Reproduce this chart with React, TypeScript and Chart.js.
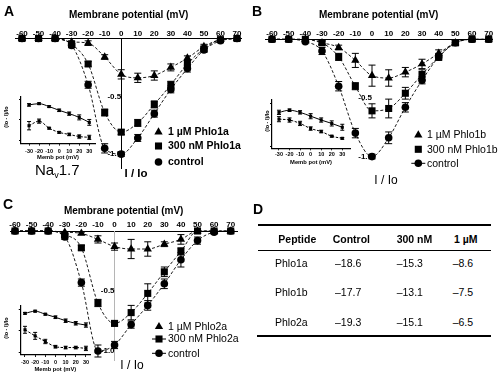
import React, { useEffect, useRef } from "react";
import { Chart, registerables } from "chart.js";
Chart.register(...registerables);

const FONT = "'Liberation Sans', Arial, Helvetica, sans-serif";

// ---------------- data ----------------
const voltages = [-60, -50, -40, -30, -20, -10, 0, 10, 20, 30, 40, 50, 60, 70];
const mainXTicks = [-60, -50, -40, -30, -20, -10, 0, 10, 20, 30, 40, 50, 60, 70];
const mainYTicks = [-1.0, -0.5];

const insetVoltages = [-30, -20, -10, 0, 10, 20, 30];
const insetXTicks = [-30, -20, -10, 0, 10, 20, 30];
const insetYTicks = [0, 0.5, 1.0];

// Panel A (Phlo1a)
const labelsA = ["1 µM Phlo1a", "300 nM Phlo1a", "control"];
const a1uM = [0, 0, 0, -0.03, -0.04, -0.16, -0.31, -0.34, -0.32, -0.25, -0.17, -0.07, -0.01, 0];
const a1uMErr = [0, 0, 0, 0.01, 0.02, 0.02, 0.04, 0.04, 0.04, 0.03, 0.02, 0.02, 0.01, 0];
const a300 = [0, 0, 0, -0.05, -0.22, -0.64, -0.81, -0.73, -0.57, -0.40, -0.22, -0.09, -0.01, 0];
const a300Err = [0, 0, 0, 0.02, 0.02, 0.03, 0.02, 0.03, 0.03, 0.03, 0.03, 0.02, 0.01, 0];
const aCtrl = [0, 0, 0, -0.06, -0.40, -0.95, -1.0, -0.86, -0.65, -0.44, -0.26, -0.10, -0.02, 0];
const aCtrlErr = [0, 0, 0, 0.02, 0.03, 0.04, 0.02, 0.03, 0.03, 0.03, 0.03, 0.02, 0.01, 0];
const aInsetUpper = [0.86, 0.89, 0.82, 0.73, 0.65, 0.56, 0.44];
const aInsetUpperErr = [0.03, 0.02, 0.02, 0.03, 0.04, 0.06, 0.07];
const aInsetLower = [0.36, 0.47, 0.30, 0.20, 0.15, 0.10, 0.08];
const aInsetLowerErr = [0.1, 0.05, 0.02, 0.02, 0.03, 0.04, 0.05];

// Panel B (Phlo1b)
const labelsB = ["1 µM Phlo1b", "300 nM Phlo1b", "control"];
const b1uM = [0, 0, 0, -0.03, -0.07, -0.18, -0.31, -0.33, -0.28, -0.21, -0.12, -0.03, 0, 0];
const b1uMErr = [0, 0, 0, 0.01, 0.02, 0.06, 0.09, 0.07, 0.04, 0.04, 0.03, 0.02, 0, 0];
const b300 = [0, 0, 0, -0.03, -0.15, -0.40, -0.61, -0.59, -0.46, -0.30, -0.15, -0.03, 0, 0];
const b300Err = [0, 0, 0, 0.02, 0.03, 0.03, 0.06, 0.08, 0.05, 0.04, 0.03, 0.02, 0, 0];
const bCtrl = [0, 0, -0.02, -0.10, -0.40, -0.80, -1.0, -0.84, -0.58, -0.35, -0.15, -0.03, 0, 0];
const bCtrlErr = [0, 0, 0, 0.03, 0.04, 0.04, 0.02, 0.05, 0.04, 0.03, 0.02, 0.02, 0, 0];
const bInsetUpper = [0.79, 0.84, 0.79, 0.70, 0.61, 0.53, 0.44];
const bInsetUpperErr = [0.05, 0.03, 0.04, 0.06, 0.05, 0.06, 0.07];
const bInsetLower = [0.63, 0.61, 0.53, 0.41, 0.34, 0.23, 0.18];
const bInsetLowerErr = [0.06, 0.05, 0.05, 0.04, 0.03, 0.02, 0.02];

// Panel C (Phlo2a)
const labelsC = ["1 µM Phlo2a", "300 nM Phlo2a", "control"];
const c1uM = [0, 0, 0, -0.01, -0.02, -0.07, -0.13, -0.15, -0.15, -0.11, -0.07, 0, 0, 0];
const c1uMErr = [0, 0, 0, 0, 0.01, 0.03, 0.03, 0.08, 0.06, 0.02, 0.04, 0.02, 0, 0];
const c300 = [0, 0, 0, -0.03, -0.14, -0.60, -0.77, -0.68, -0.52, -0.34, -0.17, 0, 0, 0];
const c300Err = [0, 0, 0, 0.01, 0.02, 0.03, 0.02, 0.06, 0.08, 0.04, 0.03, 0.02, 0.01, 0];
const cCtrl = [0, 0, 0, -0.05, -0.43, -1.0, -0.95, -0.78, -0.62, -0.44, -0.24, -0.08, -0.01, 0];
const cCtrlErr = [0, 0, 0, 0.02, 0.03, 0.05, 0.03, 0.03, 0.04, 0.04, 0.06, 0.03, 0.01, 0];
const cInsetUpper = [0.90, 0.95, 0.88, 0.81, 0.73, 0.67, 0.63];
const cInsetUpperErr = [0.02, 0.02, 0.02, 0.03, 0.04, 0.04, 0.05];
const cInsetLower = [0.52, 0.38, 0.25, 0.13, 0.11, 0.11, 0.09];
const cInsetLowerErr = [0.08, 0.08, 0.05, 0.03, 0.03, 0.03, 0.05];

// Panel D table
const tableHeader = ["Peptide", "Control", "300 nM", "1 µM"];
const tablePeptides = ["Phlo1a", "Phlo1b", "Phlo2a"];
const tableControl = ["–18.6", "–17.7", "–19.3"];
const table300 = ["–15.3", "–13.1", "–15.1"];
const table1uM = ["–8.6", "–7.5", "–6.5"];

// ---------------- helpers ----------------
type Style = "triangle" | "rect" | "circle";
const styles: Style[] = ["triangle", "rect", "circle"];
const radii = [4.8, 5.0, 3.8];
const drawOrder = [1, 0, 2]; // squares on top

function drawMarker(ctx: CanvasRenderingContext2D, style: Style, x: number, y: number, r: number) {
  ctx.beginPath();
  if (style === "triangle") {
    let rad = 0;
    ctx.moveTo(x + Math.sin(rad) * r, y - Math.cos(rad) * r);
    rad += (2 * Math.PI) / 3;
    ctx.lineTo(x + Math.sin(rad) * r, y - Math.cos(rad) * r);
    rad += (2 * Math.PI) / 3;
    ctx.lineTo(x + Math.sin(rad) * r, y - Math.cos(rad) * r);
    ctx.closePath();
  } else if (style === "rect") {
    const s = Math.SQRT1_2 * r;
    ctx.rect(x - s, y - s, 2 * s, 2 * s);
  } else {
    ctx.arc(x, y, r, 0, Math.PI * 2);
  }
  ctx.fill();
}

function errorBarPlugin(cap: number) {
  return {
    id: "errbars",
    afterDatasetsDraw(chart: any) {
      const ctx = chart.ctx as CanvasRenderingContext2D;
      const ys = chart.scales.y;
      chart.data.datasets.forEach((ds: any, i: number) => {
        const meta = chart.getDatasetMeta(i);
        const errs: number[] = ds.errors || [];
        meta.data.forEach((pt: any, j: number) => {
          const e = errs[j];
          if (!e) return;
          const v = ds.data[j].y;
          const x = pt.x;
          const y1 = ys.getPixelForValue(v + e);
          const y2 = ys.getPixelForValue(v - e);
          ctx.save();
          ctx.strokeStyle = "#000";
          ctx.lineWidth = 1;
          ctx.setLineDash([]);
          ctx.beginPath();
          ctx.moveTo(x, y1);
          ctx.lineTo(x, y2);
          ctx.moveTo(x - cap, y1);
          ctx.lineTo(x + cap, y1);
          ctx.moveTo(x - cap, y2);
          ctx.lineTo(x + cap, y2);
          ctx.stroke();
          ctx.restore();
        });
      });
    },
  };
}

type LegendSpec = {
  labels: string[];
  markerX: number;
  textX: number;
  ys: number[];
  lines: boolean[];
  bold: boolean;
};

function legendPlugin(spec: LegendSpec, offX: number, offY: number) {
  return {
    id: "customLegend",
    afterDraw(chart: any) {
      const ctx = chart.ctx as CanvasRenderingContext2D;
      ctx.save();
      ctx.fillStyle = "#000";
      ctx.strokeStyle = "#000";
      ctx.font = `${spec.bold ? "bold " : ""}10.5px ${FONT}`;
      ctx.textBaseline = "middle";
      ctx.textAlign = "left";
      spec.labels.forEach((lab, i) => {
        const mx = spec.markerX - offX;
        const y = spec.ys[i] - offY;
        if (spec.lines[i]) {
          ctx.lineWidth = 1;
          ctx.beginPath();
          ctx.moveTo(mx - 7, y);
          ctx.lineTo(mx + 7, y);
          ctx.stroke();
        }
        drawMarker(ctx, styles[i], mx, y, radii[i]);
        ctx.fillText(lab, spec.textX - offX, y + 0.5);
      });
      ctx.restore();
    },
  };
}

type MainSpec = {
  left: number;
  top: number;
  width: number;
  height: number;
  p60: number;
  p70: number;
  xMin: number;
  xMax: number;
  yMin: number;
  plotTop: number;
  plotBottom: number;
  titleY: number;
  tickY: number;
  axisColor: string | null;
  series: { values: number[]; errors: number[] }[];
  legend: LegendSpec;
};

function buildMain(s: MainSpec) {
  const pxPerMv = (s.p70 - s.p60) / 130;
  const plotLeft = s.p60 + (s.xMin + 60) * pxPerMv;
  const plotRight = s.p60 + (s.xMax + 60) * pxPerMv;
  const axisH = s.plotTop - s.top;
  const titleFont = 10;
  const tickFont = 8;
  const titlePad = s.titleY - s.top - (titleFont * 1.2) / 2;
  const tickPad = Math.max(0, s.plotTop - s.tickY - (tickFont * 1.2) / 2);
  return {
    type: "line",
    data: {
      datasets: s.series.map((ser, i) => ({
        label: s.legend.labels[i],
        data: voltages.map((v, j) => ({ x: v, y: ser.values[j] })),
        errors: ser.errors,
        order: drawOrder[i],
        borderColor: "#000",
        backgroundColor: "#000",
        borderWidth: 0.9,
        borderDash: [3, 2],
        pointStyle: styles[i],
        pointRadius: radii[i],
        pointBorderWidth: 0,
        cubicInterpolationMode: "monotone",
        clip: false,
        fill: false,
      })),
    },
    options: {
      animation: false,
      responsive: false,
      maintainAspectRatio: false,
      events: [],
      layout: {
        padding: {
          left: plotLeft - s.left,
          right: s.left + s.width - plotRight,
          top: 0,
          bottom: s.top + s.height - s.plotBottom,
        },
      },
      plugins: { legend: { display: false }, tooltip: { enabled: false } },
      scales: {
        x: {
          type: "linear",
          position: "top",
          min: s.xMin,
          max: s.xMax,
          grid: { display: false, drawTicks: false, tickLength: 0 },
          border: { display: true, color: "#000", width: 1 },
          afterBuildTicks: (sc: any) => {
            sc.ticks = mainXTicks.map((v) => ({ value: v }));
          },
          afterFit: (sc: any) => {
            sc.height = axisH;
          },
          ticks: {
            color: "#000",
            padding: tickPad,
            maxRotation: 0,
            autoSkip: false,
            font: { family: FONT, size: tickFont, weight: "bold" },
            callback: (v: any) => String(v),
          },
          title: {
            display: true,
            text: "Membrane potential (mV)",
            color: "#000",
            font: { family: FONT, size: titleFont, weight: "bold" },
            padding: { top: titlePad, bottom: 0 },
          },
        },
        y: {
          type: "linear",
          position: { x: 0 },
          min: s.yMin,
          max: 0,
          grid: { display: false, drawTicks: false, tickLength: 0 },
          border: { display: s.axisColor !== null, color: s.axisColor || "#000", width: 1 },
          afterBuildTicks: (sc: any) => {
            sc.ticks = mainYTicks.map((v) => ({ value: v }));
          },
          afterFit: (sc: any) => {
            sc.width = 0;
          },
          ticks: {
            color: "#000",
            padding: 2,
            font: { family: FONT, size: 8, weight: "bold" },
            callback: (v: any) => Number(v).toFixed(1),
          },
        },
      },
    },
    plugins: [errorBarPlugin(3.5), legendPlugin(s.legend, s.left, s.top)],
  };
}

type InsetSpec = {
  xm30: number;
  x30: number;
  y1: number;
  y0: number;
  xMin: number;
  xMax: number;
  yMin: number;
  yMax: number;
  tickY: number;
  titleY: number;
  upper: number[];
  upperErr: number[];
  lower: number[];
  lowerErr: number[];
};

function insetBox(s: InsetSpec) {
  const pxX = (s.x30 - s.xm30) / 60;
  const plotLeft = s.xm30 + (s.xMin + 30) * pxX;
  const plotRight = s.xm30 + (s.xMax + 30) * pxX;
  const pxY = s.y0 - s.y1;
  const plotTop = s.y1 - (s.yMax - 1) * pxY;
  const plotBottom = s.y0 - s.yMin * pxY;
  const left = Math.max(0, plotLeft - 21);
  const top = plotTop - 5;
  const width = plotRight - left + 4;
  const height = s.titleY + 5 - top;
  return { plotLeft, plotRight, plotTop, plotBottom, left, top, width, height };
}

function buildInset(s: InsetSpec) {
  const b = insetBox(s);
  const tickFont = 5.5;
  const titleFont = 5.8;
  const tickLen = 2;
  const canvasBottom = b.top + b.height;
  const tickPad = Math.max(0, s.tickY - b.plotBottom - tickLen - (tickFont * 1.2) / 2);
  const titlePadB = Math.max(0, canvasBottom - s.titleY - (titleFont * 1.2) / 2);
  const mk = (vals: number[], errs: number[], dashed: boolean) => ({
    data: insetVoltages.map((v, j) => ({ x: v, y: vals[j] })),
    errors: errs,
    borderColor: "#000",
    backgroundColor: "#000",
    borderWidth: 1,
    borderDash: dashed ? [2.5, 1.5] : [],
    pointStyle: "rect",
    pointRadius: 2.2,
    pointBorderWidth: 0,
    cubicInterpolationMode: "monotone",
    clip: false,
    fill: false,
  });
  const grid = { display: true, drawOnChartArea: false, drawTicks: true, tickLength: tickLen, color: "#000", lineWidth: 1 };
  return {
    type: "line",
    data: { datasets: [mk(s.upper, s.upperErr, false), mk(s.lower, s.lowerErr, true)] },
    options: {
      animation: false,
      responsive: false,
      maintainAspectRatio: false,
      events: [],
      layout: {
        padding: {
          left: b.plotLeft - b.left,
          right: b.left + b.width - b.plotRight,
          top: b.plotTop - b.top,
          bottom: 0,
        },
      },
      plugins: { legend: { display: false }, tooltip: { enabled: false } },
      scales: {
        x: {
          type: "linear",
          position: "bottom",
          min: s.xMin,
          max: s.xMax,
          grid,
          border: { display: true, color: "#000", width: 1.2 },
          afterBuildTicks: (sc: any) => {
            sc.ticks = insetXTicks.map((v) => ({ value: v }));
          },
          afterFit: (sc: any) => {
            sc.height = canvasBottom - b.plotBottom;
          },
          ticks: {
            color: "#000",
            padding: tickPad,
            maxRotation: 0,
            autoSkip: false,
            font: { family: FONT, size: tickFont, weight: "bold" },
            callback: (v: any) => String(v),
          },
          title: {
            display: true,
            text: "Memb pot (mV)",
            color: "#000",
            font: { family: FONT, size: titleFont, weight: "bold" },
            padding: { top: 0, bottom: titlePadB },
          },
        },
        y: {
          type: "linear",
          position: "left",
          min: s.yMin,
          max: s.yMax,
          grid,
          border: { display: true, color: "#000", width: 1.2 },
          afterBuildTicks: (sc: any) => {
            sc.ticks = insetYTicks.map((v) => ({ value: v }));
          },
          afterFit: (sc: any) => {
            sc.width = 0;
          },
          ticks: {
            color: "#000",
            padding: 1.5,
            font: { family: FONT, size: 5, weight: "bold" },
            callback: (v: any) => Number(v).toFixed(1),
          },
        },
      },
    },
    plugins: [errorBarPlugin(2)],
  };
}

// ---------------- panel specs ----------------
const panelA: MainSpec = {
  left: 0, top: 0, width: 250, height: 180,
  p60: 22, p70: 237, xMin: -64, xMax: 73, yMin: -1.12,
  plotTop: 38.5, plotBottom: 168, titleY: 15, tickY: 33.5, axisColor: "#000",
  series: [
    { values: a1uM, errors: a1uMErr },
    { values: a300, errors: a300Err },
    { values: aCtrl, errors: aCtrlErr },
  ],
  legend: { labels: labelsA, markerX: 158.5, textX: 168, ys: [132, 146, 162], lines: [false, false, false], bold: true },
};

const panelB: MainSpec = {
  left: 250, top: 0, width: 250, height: 185,
  p60: 272, p70: 488.7, xMin: -64, xMax: 72, yMin: -1.14,
  plotTop: 39.3, plotBottom: 173, titleY: 15, tickY: 33.5, axisColor: null,
  series: [
    { values: b1uM, errors: b1uMErr },
    { values: b300, errors: b300Err },
    { values: bCtrl, errors: bCtrlErr },
  ],
  legend: { labels: labelsB, markerX: 418.3, textX: 427, ys: [135, 149.3, 163.3], lines: [false, false, true], bold: false },
};

const panelC: MainSpec = {
  left: 0, top: 180, width: 250, height: 195,
  p60: 15, p70: 230.7, xMin: -63, xMax: 74, yMin: -1.075,
  plotTop: 231, plotBottom: 360, titleY: 211.7, tickY: 224.5, axisColor: "#b5b5b5",
  series: [
    { values: c1uM, errors: c1uMErr },
    { values: c300, errors: c300Err },
    { values: cCtrl, errors: cCtrlErr },
  ],
  legend: { labels: labelsC, markerX: 159, textX: 168, ys: [326.7, 339, 353.3], lines: [false, true, true], bold: false },
};

const insetA: InsetSpec = {
  xm30: 29.3, x30: 89.3, y1: 98.7, y0: 140, xMin: -38, xMax: 35.7, yMin: -0.07, yMax: 1.05,
  tickY: 150.7, titleY: 156.3,
  upper: aInsetUpper, upperErr: aInsetUpperErr, lower: aInsetLower, lowerErr: aInsetLowerErr,
};
const insetB: InsetSpec = {
  xm30: 279, x30: 342.3, y1: 103.3, y0: 146, xMin: -36.6, xMax: 37.3, yMin: -0.054, yMax: 1.08,
  tickY: 154.5, titleY: 162,
  upper: bInsetUpper, upperErr: bInsetUpperErr, lower: bInsetLower, lowerErr: bInsetLowerErr,
};
const insetC: InsetSpec = {
  xm30: 25, x30: 86, y1: 309, y0: 352.3, xMin: -34.2, xMax: 34, yMin: -0.06, yMax: 1.07,
  tickY: 362, titleY: 369,
  upper: cInsetUpper, upperErr: cInsetUpperErr, lower: cInsetLower, lowerErr: cInsetLowerErr,
};

// ---------------- components ----------------
function ChartCanvas(props: { left: number; top: number; width: number; height: number; build: () => any }) {
  const ref = useRef<HTMLCanvasElement | null>(null);
  useEffect(() => {
    const chart = new Chart(ref.current as HTMLCanvasElement, props.build());
    return () => chart.destroy();
  }, []);
  return (
    <canvas
      ref={ref}
      width={Math.round(props.width)}
      height={Math.round(props.height)}
      style={{ position: "absolute", left: props.left, top: props.top, width: Math.round(props.width), height: Math.round(props.height) }}
    />
  );
}

function MainChart({ spec }: { spec: MainSpec }) {
  return <ChartCanvas left={spec.left} top={spec.top} width={spec.width} height={spec.height} build={() => buildMain(spec)} />;
}

function InsetChart({ spec }: { spec: InsetSpec }) {
  const b = insetBox(spec);
  return <ChartCanvas left={b.left} top={b.top} width={b.width} height={b.height} build={() => buildInset({ ...spec })} />;
}

function Txt(props: {
  x: number; y: number; size: number; bold?: boolean; align?: "left" | "center" | "right"; rotate?: number; children: any;
}) {
  const align = props.align || "left";
  const tx = align === "left" ? "0" : align === "center" ? "-50%" : "-100%";
  return (
    <div
      style={{
        position: "absolute",
        left: props.x,
        top: props.y,
        transform: `translate(${tx}, -50%)${props.rotate ? ` rotate(${props.rotate}deg)` : ""}`,
        transformOrigin: "center center",
        fontFamily: FONT,
        fontSize: props.size,
        fontWeight: props.bold ? "bold" : "normal",
        lineHeight: 1,
        whiteSpace: "nowrap",
        color: "#000",
      }}
    >
      {props.children}
    </div>
  );
}

function Rule({ x, y, w, h }: { x: number; y: number; w: number; h: number }) {
  return <div style={{ position: "absolute", left: x, top: y, width: w, height: h, background: "#000" }} />;
}

export default function App() {
  const colX = [278.3, 332.7, 396.7, 454];
  const valX = [275, 335, 396.7, 452.7];
  const rowY = [263.3, 292, 322];
  return (
    <div style={{ position: "absolute", left: 0, top: 0, width: 500, height: 375, background: "#fff", overflow: "hidden" }}>
      <MainChart spec={panelA} />
      <MainChart spec={panelB} />
      <MainChart spec={panelC} />
      <InsetChart spec={insetA} />
      <InsetChart spec={insetB} />
      <InsetChart spec={insetC} />

      {/* inset y titles */}
      <Txt x={7} y={117} size={5.5} bold align="center" rotate={-90}>(Io - I)/Io</Txt>
      <Txt x={267.5} y={121} size={5.5} bold align="center" rotate={-90}>(Io - I)/Io</Txt>
      <Txt x={6.5} y={328} size={5.5} bold align="center" rotate={-90}>(Io - I)/Io</Txt>

      {/* panel letters */}
      <Txt x={4} y={10.5} size={14} bold>A</Txt>
      <Txt x={252} y={10.5} size={14} bold>B</Txt>
      <Txt x={3} y={203.5} size={14} bold>C</Txt>
      <Txt x={253} y={208.5} size={14} bold>D</Txt>

      {/* y axis titles */}
      <Txt x={136} y={173.5} size={11.5} bold align="center">I / Io</Txt>
      <Txt x={386} y={180} size={12} align="center">I / Io</Txt>
      <Txt x={132} y={365} size={12} align="center">I / Io</Txt>

      {/* channel label */}
      <Txt x={35} y={171} size={15}>
        Na<sub style={{ fontSize: 9, verticalAlign: "-3px" }}>v</sub>1.7
      </Txt>

      {/* panel D table */}
      <Rule x={258} y={224.3} w={233} h={1.6} />
      <Rule x={258} y={250.3} w={233} h={1.2} />
      <Rule x={257} y={335} w={234} h={1.6} />
      {tableHeader.map((h, i) => (
        <Txt key={h} x={colX[i]} y={239.3} size={10.5} bold>{h}</Txt>
      ))}
      {tablePeptides.map((p, r) => (
        <React.Fragment key={p}>
          <Txt x={valX[0]} y={rowY[r]} size={10.5}>{p}</Txt>
          <Txt x={valX[1]} y={rowY[r]} size={10.5}>{tableControl[r]}</Txt>
          <Txt x={valX[2]} y={rowY[r]} size={10.5}>{table300[r]}</Txt>
          <Txt x={valX[3]} y={rowY[r]} size={10.5}>{table1uM[r]}</Txt>
        </React.Fragment>
      ))}
    </div>
  );
}
